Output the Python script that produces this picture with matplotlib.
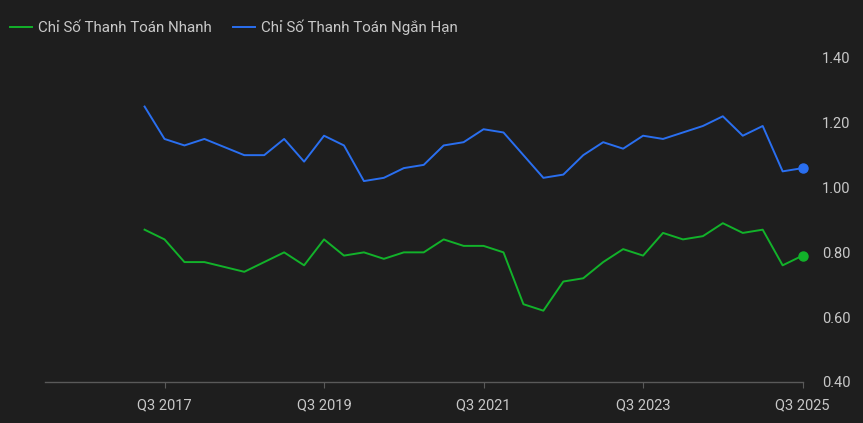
import matplotlib
matplotlib.use("Agg")
import matplotlib.pyplot as plt
import pandas as pd

# quarterly ratios, Q2 2017 .. Q3 2025
quarters = pd.period_range("2017Q2", "2025Q3", freq="Q")
quick_ratio = [0.87, 0.84, 0.77, 0.77, 0.755, 0.74, 0.77, 0.80, 0.76, 0.84,
               0.79, 0.80, 0.78, 0.80, 0.80, 0.84, 0.82, 0.82, 0.80, 0.64,
               0.62, 0.71, 0.72, 0.77, 0.81, 0.79, 0.86, 0.84, 0.85, 0.89,
               0.86, 0.87, 0.76, 0.79]
current_ratio = [1.25, 1.15, 1.13, 1.15, 1.125, 1.10, 1.10, 1.15, 1.08, 1.16,
                 1.13, 1.02, 1.03, 1.06, 1.07, 1.13, 1.14, 1.18, 1.17, 1.10,
                 1.03, 1.04, 1.10, 1.14, 1.12, 1.16, 1.15, 1.17, 1.19, 1.22,
                 1.16, 1.19, 1.05, 1.06]
series_names = ["Chỉ Số Thanh Toán Nhanh", "Chỉ Số Thanh Toán Ngắn Hạn"]
tick_quarters = ["2017Q3", "2019Q3", "2021Q3", "2023Q3", "2025Q3"]
y_ticks = [0.40, 0.60, 0.80, 1.00, 1.20, 1.40]

BG = "#1e1e1e"
TXT = "#c8c8c8"
GREEN = "#12b22a"
BLUE = "#2a6ff0"

start = pd.Period("2016Q1", freq="Q")
x = [(q - start).n for q in quarters]

plt.rcParams["font.family"] = ["Roboto", "DejaVu Sans"]

fig = plt.figure(figsize=(8.63, 4.23), dpi=100, facecolor=BG)
ax = fig.add_axes([0.052, 0.097, 0.878, 0.766], facecolor=BG)

ax.plot(x, quick_ratio, color=GREEN, lw=1.4, label=series_names[0])
ax.plot(x, current_ratio, color=BLUE, lw=1.4, label=series_names[1])
ax.plot(x[-1], quick_ratio[-1], "o", color=GREEN, ms=6.5, clip_on=False)
ax.plot(x[-1], current_ratio[-1], "o", color=BLUE, ms=6.5, clip_on=False)

ax.set_xlim(0, (pd.Period("2025Q3", freq="Q") - start).n)
ax.set_ylim(0.40, 1.40)

xt = [(pd.Period(q, freq="Q") - start).n for q in tick_quarters]
ax.set_xticks(xt)
ax.set_xticklabels(["Q%d %d" % (pd.Period(q).quarter, pd.Period(q).year)
                    for q in tick_quarters])
ax.set_yticks(y_ticks)
ax.set_yticklabels(["%.2f" % v for v in y_ticks])

ax.yaxis.tick_right()
ax.tick_params(axis="y", length=0, pad=14, colors=TXT, labelsize=10.5)
ax.tick_params(axis="x", length=4, width=0.8, color="#5a5a5a", pad=8,
               colors=TXT, labelsize=10.5)

for s in ["top", "left", "right"]:
    ax.spines[s].set_visible(False)
ax.spines["bottom"].set_color("#5a5a5a")
ax.spines["bottom"].set_linewidth(1.0)

leg = fig.legend(loc="upper left", bbox_to_anchor=(10 / 863, 0.953), ncol=2,
                 frameon=False, fontsize=10.9, handlelength=1.45,
                 handletextpad=0.4, columnspacing=1.4, borderpad=0,
                 borderaxespad=0)
for t in leg.get_texts():
    t.set_color(TXT)

fig.savefig("out.png", dpi=100, facecolor=BG)
